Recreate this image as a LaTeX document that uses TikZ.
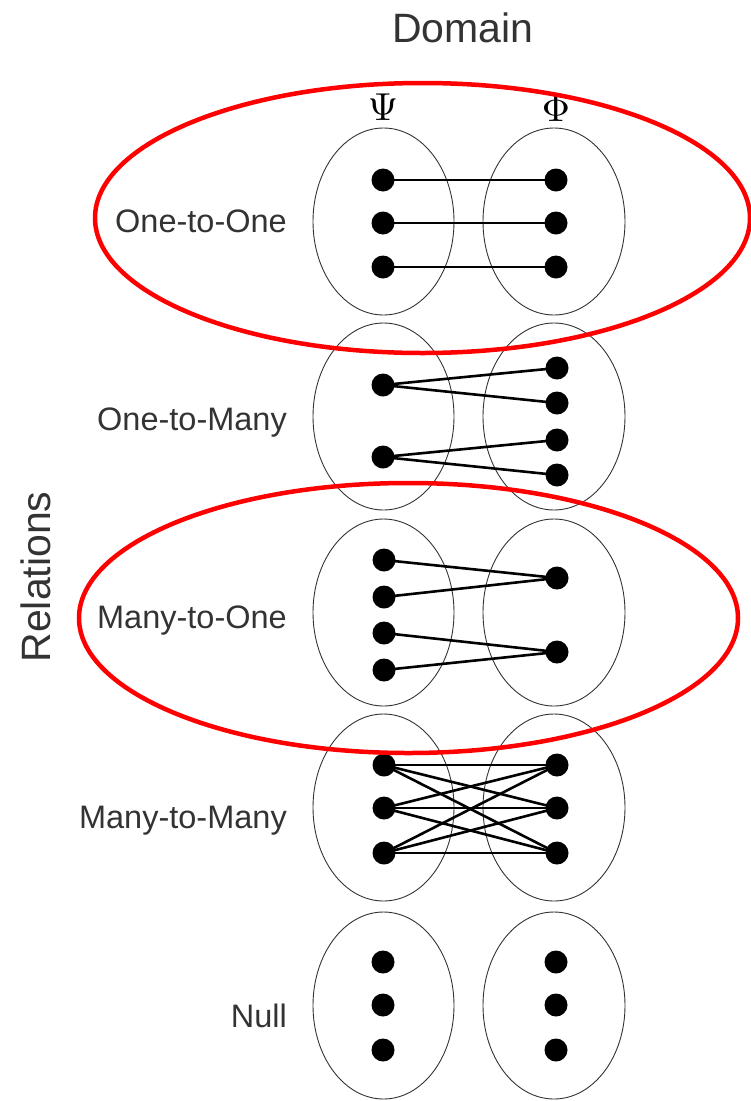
\documentclass[tikz,border=0pt]{standalone}
\usepackage{fontspec}
\setmainfont{Liberation Sans}
\begin{document}
\begin{tikzpicture}[x=1pt,y=-1pt]
\tikzset{
  setell/.style={draw=black!80, line width=0.9pt},
  elem/.style={circle, fill=black, inner sep=0pt, minimum size=23pt},
  link/.style={line width=2.6pt, black, shorten <=-4pt, shorten >=-4pt},
  lab/.style={anchor=base east, inner sep=0pt, text=black!80, font=\fontsize{32.5}{33}\selectfont},
  ttl/.style={anchor=base, inner sep=0pt, text=black!80, font=\fontsize{41}{42}\selectfont},
  greek/.style={anchor=base, inner sep=0pt, scale=3.9},
  hl/.style={draw=red, line width=4.5pt},
}
\useasboundingbox (0,0) rectangle (751,1101);
% titles
\node[ttl] (domain) at (463,42) {Domain};
\node[ttl, rotate=90] (relations) at (50,577) {Relations};
\node[greek] (psi) at (383,120.5) {$\Psi$};
\node[greek] (phi) at (556,121) {$\Phi$};
% row labels
\node[lab] (l1) at (287,232) {One-to-One};
\node[lab] (l2) at (287,430) {One-to-Many};
\node[lab] (l3) at (287,628) {Many-to-One};
\node[lab] (l4) at (287,828) {Many-to-Many};
\node[lab] (l5) at (287,1027) {Null};
% set ellipses
\foreach \cy in {221.5,416.5,612.5,807.5,1005.5}{
  \draw[setell] (383.5,\cy) ellipse [x radius=70.5, y radius=93.5];
  \draw[setell] (554,\cy) ellipse [x radius=71, y radius=93.5];
}
% row 1: one-to-one
\node[elem] (a1) at (383,180) {};
\node[elem] (a2) at (383,223) {};
\node[elem] (a3) at (383,267) {};
\node[elem] (b1) at (556,180) {};
\node[elem] (b2) at (556,223) {};
\node[elem] (b3) at (556,267) {};
\draw[link] (a1) -- (b1);
\draw[link] (a2) -- (b2);
\draw[link] (a3) -- (b3);
% row 2: one-to-many
\node[elem] (c1) at (383,385) {};
\node[elem] (c2) at (383,457) {};
\node[elem] (d1) at (557,368) {};
\node[elem] (d2) at (557,403) {};
\node[elem] (d3) at (557,440) {};
\node[elem] (d4) at (557,475) {};
\draw[link] (c1) -- (d1);
\draw[link] (c1) -- (d2);
\draw[link] (c2) -- (d3);
\draw[link] (c2) -- (d4);
% row 3: many-to-one
\node[elem] (e1) at (384,560) {};
\node[elem] (e2) at (384,597) {};
\node[elem] (e3) at (384,633) {};
\node[elem] (e4) at (384,670) {};
\node[elem] (f1) at (557,578) {};
\node[elem] (f2) at (557,652) {};
\draw[link] (e1) -- (f1);
\draw[link] (e2) -- (f1);
\draw[link] (e3) -- (f2);
\draw[link] (e4) -- (f2);
% row 4: many-to-many
\node[elem] (g1) at (384,765) {};
\node[elem] (g2) at (384,808) {};
\node[elem] (g3) at (384,853) {};
\node[elem] (h1) at (557,765) {};
\node[elem] (h2) at (557,808) {};
\node[elem] (h3) at (557,853) {};
\foreach \i in {1,2,3}{
  \foreach \j in {1,2,3}{
    \draw[link] (g\i) -- (h\j);
  }
}
% row 5: null
\node[elem] (n1) at (383,962) {};
\node[elem] (n2) at (383,1005) {};
\node[elem] (n3) at (383,1050) {};
\node[elem] (m1) at (556,962) {};
\node[elem] (m2) at (556,1005) {};
\node[elem] (m3) at (556,1050) {};
% red highlights
\draw[hl] (422.5,218) ellipse [x radius=327.5, y radius=135];
\draw[hl] (408.5,618) ellipse [x radius=329.5, y radius=135];
\end{tikzpicture}
\end{document}
